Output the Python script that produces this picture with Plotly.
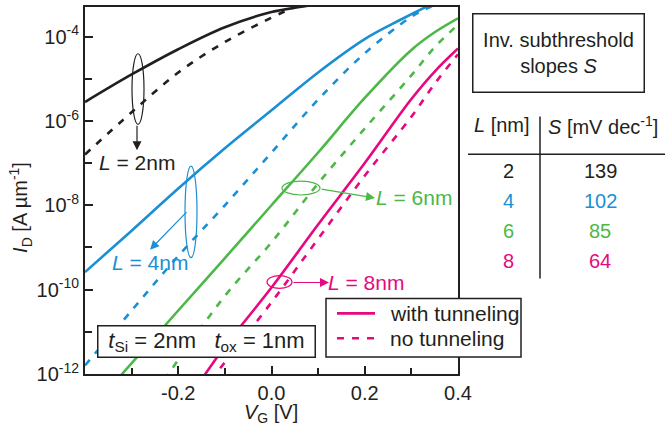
import plotly.graph_objects as go

# ---------------- data ----------------
# gate voltage V_G [V] and drain current I_D [A/um]
v_l2_tun = [-0.40, -0.30, -0.20, -0.10, 0.00, 0.06, 0.12]
i_l2_tun = [2.8e-6, 1.26e-5, 5.0e-5, 1.66e-4, 3.8e-4, 5.0e-4, 6.3e-4]
v_l2_no = [-0.40, -0.30, -0.20, -0.10, 0.00, 0.05, 0.10]
i_l2_no = [1.6e-7, 1.6e-6, 1.4e-5, 7.4e-5, 2.8e-4, 5.0e-4, 7.9e-4]

v_l4_tun = [-0.40, -0.30, -0.20, -0.10, 0.00, 0.10, 0.20, 0.28, 0.34, 0.40]
i_l4_tun = [2.6e-10, 2.5e-9, 2.5e-8, 2.24e-7, 1.78e-6, 1.41e-5, 8.7e-5, 2.6e-4, 5.6e-4, 1.12e-3]
v_l4_no = [-0.40, -0.30, -0.20, -0.10, 0.00, 0.10, 0.20, 0.30, 0.34, 0.38]
i_l4_no = [1.6e-12, 3.2e-11, 6.3e-10, 1.0e-8, 1.78e-7, 3.2e-6, 4.0e-5, 2.95e-4, 5.0e-4, 7.9e-4]

v_l6_tun = [-0.33, -0.20, -0.10, 0.00, 0.10, 0.20, 0.30, 0.35, 0.40]
i_l6_tun = [7.6e-13, 3.2e-11, 5.6e-10, 1.0e-8, 1.78e-7, 3.5e-6, 4.8e-5, 1.26e-4, 2.7e-4]
v_l6_no = [-0.23, -0.10, 0.00, 0.10, 0.20, 0.30, 0.35, 0.40]
i_l6_no = [7.2e-13, 7.1e-11, 1.32e-9, 3.3e-8, 6.6e-7, 1.2e-5, 5.6e-5, 1.9e-4]

v_l8_tun = [-0.15, -0.10, 0.00, 0.10, 0.20, 0.30, 0.35, 0.40]
i_l8_tun = [7.4e-13, 4.5e-12, 1.12e-10, 3.5e-9, 1.0e-7, 3.3e-6, 1.48e-5, 5.2e-5]
v_l8_no = [-0.13, -0.10, 0.00, 0.10, 0.20, 0.30, 0.35, 0.40]
i_l8_no = [7.1e-13, 1.9e-12, 5.0e-11, 1.6e-9, 5.0e-8, 1.26e-6, 7.6e-6, 3.8e-5]

x_tickvals = [-0.2, 0.0, 0.2, 0.4]
x_ticktext = ["-0.2", "0.0", "0.2", "0.4"]
x_minor = [-0.3, -0.1, 0.1, 0.3]
y_tickvals = [1e-12, 1e-10, 1e-8, 1e-6, 1e-4]
y_ticktext = ["10<sup>-12</sup>", "10<sup>-10</sup>", "10<sup>-8</sup>", "10<sup>-6</sup>", "10<sup>-4</sup>"]
y_minor = [1e-11, 1e-9, 1e-7, 1e-5]

table_L = ["2", "4", "6", "8"]
table_S = ["139", "102", "85", "64"]
legend_labels = ["with tunneling", "no tunneling"]

# ---------------- style ----------------
BLACK = "#231f20"
BLUE = "#1b8fd4"
GREEN = "#4cb847"
PINK = "#e6087f"
colors = [BLACK, BLUE, GREEN, PINK]
FONT = "Liberation Sans, Arial, sans-serif"
FS = 20
DASH = "7px,8px"
LW = 2.6

W, H = 666, 431
L_M, R_PX, T_PX, B_PX = 85, 458, 5, 374


def px(x):
    return (x - L_M) / (R_PX - L_M)


def py(y):
    return (B_PX - y) / (B_PX - T_PX)


fig = go.Figure()
series = [
    ("L = 2nm", v_l2_tun, i_l2_tun, v_l2_no, i_l2_no, BLACK),
    ("L = 4nm", v_l4_tun, i_l4_tun, v_l4_no, i_l4_no, BLUE),
    ("L = 6nm", v_l6_tun, i_l6_tun, v_l6_no, i_l6_no, GREEN),
    ("L = 8nm", v_l8_tun, i_l8_tun, v_l8_no, i_l8_no, PINK),
]
for nm, vt, it, vn, inn, c in series:
    fig.add_trace(go.Scatter(x=vt, y=it, mode="lines", showlegend=False,
                             name=nm + ", " + legend_labels[0],
                             line=dict(color=c, width=LW, shape="spline", smoothing=1.0)))
    fig.add_trace(go.Scatter(x=vn, y=inn, mode="lines", showlegend=False,
                             name=nm + ", " + legend_labels[1],
                             line=dict(color=c, width=LW, dash=DASH, shape="spline", smoothing=1.0)))

ann = []
shapes = []


def text(x, y, t, color=BLACK, size=FS, anchor="center", **kw):
    ann.append(dict(x=px(x), y=py(y), xref="paper", yref="paper", text=t, showarrow=False,
                    font=dict(color=color, size=size, family=FONT), xanchor=anchor,
                    yanchor="middle", **kw))


def arrow(hx, hy, tx, ty, color):
    ann.append(dict(x=px(hx), y=py(hy), xref="paper", yref="paper", text="", showarrow=True,
                    ax=tx - hx, ay=ty - hy, axref="pixel", ayref="pixel",
                    arrowhead=2, arrowsize=1.5, arrowwidth=1.2, arrowcolor=color))


def ellipse(x0, y0, x1, y1, color):
    shapes.append(dict(type="circle", xref="paper", yref="paper", x0=px(x0), x1=px(x1),
                       y0=py(y1), y1=py(y0), line=dict(color=color, width=1.2)))


def seg(x0, y0, x1, y1, color=BLACK, width=1.5, dash="solid"):
    shapes.append(dict(type="line", xref="paper", yref="paper", x0=px(x0), x1=px(x1),
                       y0=py(y0), y1=py(y1), line=dict(color=color, width=width, dash=dash)))


def rect(x0, y0, x1, y1):
    shapes.append(dict(type="rect", xref="paper", yref="paper", x0=px(x0), x1=px(x1),
                       y0=py(y1), y1=py(y0), line=dict(color=BLACK, width=1.5),
                       fillcolor="white", layer="above"))


# L annotations
ellipse(132, 52, 144, 123, BLACK)
arrow(137, 149, 137, 123, BLACK)
text(137, 161, "<i>L</i> = 2nm", BLACK, 21)

ellipse(185, 165, 197, 257, BLUE)
arrow(150, 249, 188, 210, BLUE)
text(150, 262, "<i>L</i> = 4nm", BLUE, 21)

ellipse(282, 180, 320, 194, GREEN)
arrow(375, 197, 320, 188, GREEN)
text(414, 197, "<i>L</i> = 6nm", GREEN, 21)

ellipse(267, 275, 292, 288, PINK)
arrow(329, 282, 292, 282, PINK)
text(366, 282, "<i>L</i> = 8nm", PINK, 21)

# axis titles
ann.append(dict(x=px(21), y=py(207), xref="paper", yref="paper", showarrow=False,
                text="<i>I</i><sub>D</sub> [A µm<sup>-1</sup>]", textangle=-90,
                font=dict(color=BLACK, size=FS, family=FONT), xanchor="center", yanchor="middle"))
text(271, 414, "<i>V</i><sub>G</sub> [V]")

# legend box (line style key)
rect(326, 298, 521, 357)
seg(337, 313, 375, 313, PINK, LW)
seg(337, 338, 375, 338, PINK, LW, DASH)
text(388, 313, legend_labels[0], BLACK, 21, anchor="left")
text(388, 338, legend_labels[1], BLACK, 21, anchor="left")

# thickness box
ann.append(dict(x=px(206.5), y=py(341), xref="paper", yref="paper", showarrow=False,
                text="<i>t</i><sub>Si</sub> = 2nm\u00a0\u00a0\u00a0<i>t</i><sub>ox</sub> = 1nm",
                font=dict(color=BLACK, size=22, family=FONT), xanchor="center", yanchor="middle",
                bordercolor=BLACK, borderwidth=1.5, borderpad=0, bgcolor="white",
                width=216, height=30))

# S title box
ann.append(dict(x=px(558.5), y=py(51), xref="paper", yref="paper", showarrow=False,
                text="Inv. subthreshold<br>slopes <i>S</i>",
                font=dict(color=BLACK, size=FS, family=FONT), xanchor="center", yanchor="middle",
                bordercolor=BLACK, borderwidth=1.5, borderpad=0, bgcolor="white",
                width=170, height=77))

# table
text(502, 124, "<i>L</i> [nm]")
text(603, 124, "<i>S</i> [mV dec<sup>-1</sup>]")
seg(468, 153, 665, 153)
seg(540, 115, 540, 278)
for k, (lv, sv) in enumerate(zip(table_L, table_S)):
    yy = 170 + 30 * k
    text(508, yy, lv, colors[k])
    text(600, yy, sv, colors[k])

fig.update_layout(
    width=W, height=H,
    margin=dict(l=L_M, r=W - R_PX, t=T_PX, b=H - B_PX),
    paper_bgcolor="white", plot_bgcolor="white",
    font=dict(family=FONT, size=FS, color=BLACK),
    annotations=ann, shapes=shapes, showlegend=False,
    xaxis=dict(range=[-0.4, 0.4], showgrid=False, zeroline=False,
               showline=True, linecolor=BLACK, linewidth=2, mirror=True,
               ticks="inside", ticklen=8, tickwidth=1.5, tickcolor=BLACK,
               tickvals=x_tickvals, ticktext=x_ticktext,
               minor=dict(tickvals=x_minor, ticks="inside", ticklen=6, tickwidth=1.5, tickcolor=BLACK),
               tickfont=dict(size=FS, family=FONT, color=BLACK)),
    yaxis=dict(type="log", range=[-12, -3.3], showgrid=False, zeroline=False,
               showline=True, linecolor=BLACK, linewidth=2, mirror=True,
               ticks="inside", ticklen=8, tickwidth=1.5, tickcolor=BLACK,
               tickvals=y_tickvals, ticktext=y_ticktext,
               minor=dict(tickvals=y_minor, ticks="inside", ticklen=7, tickwidth=1.5, tickcolor=BLACK),
               tickfont=dict(size=FS, family=FONT, color=BLACK)),
)

fig.write_html("out.html", config={"displayModeBar": False},
               post_script="document.body.style.margin='0';")
